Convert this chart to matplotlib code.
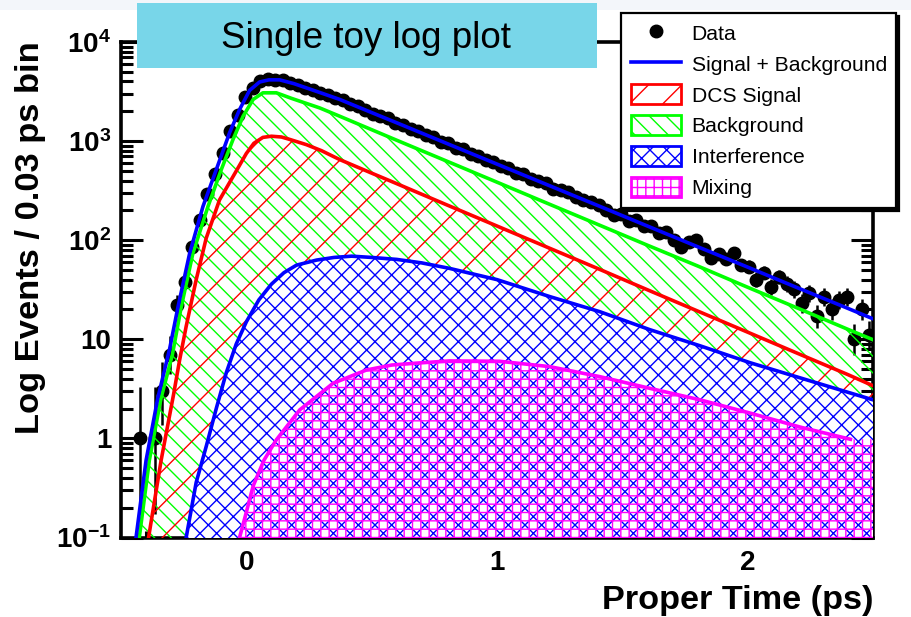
import numpy as np
import matplotlib
matplotlib.use('Agg')
import matplotlib.pyplot as plt
import matplotlib.patches as mpatches
import matplotlib.lines as mlines
import matplotlib.ticker as tck

plt.rcParams['font.family'] = ['Liberation Sans', 'DejaVu Sans']
plt.rcParams['mathtext.fontset'] = 'custom'
plt.rcParams['mathtext.rm'] = 'Liberation Sans:bold'
plt.rcParams['mathtext.it'] = 'Liberation Sans:bold'
plt.rcParams['mathtext.bf'] = 'Liberation Sans:bold'
plt.rcParams['hatch.linewidth'] = 1.0

# toy data: events per 0.03 ps bin, first bin starts at -0.5 ps
t_min = -0.5
bin_width = 0.03
counts = [0, 0, 1, 0, 1, 3, 7, 22, 38, 85,
          160, 290, 470, 760, 1250, 1830, 2800, 3450, 4050, 4200,
          4150, 4100, 3850, 3700, 3450, 3300, 3050, 2900, 2700, 2600,
          2350, 2250, 2050, 1880, 1800, 1700, 1520, 1450, 1310, 1270,
          1150, 1100, 990, 950, 860, 830, 740, 710, 640, 620,
          560, 540, 480, 470, 410, 400, 380, 330, 320, 305,
          270, 255, 245, 229, 200, 181, 185, 155, 160, 138,
          140, 118, 120, 100, 86, 95, 101, 82, 66, 72,
          64, 74, 56, 54, 40, 47, 34, 43, 36, 32,
          23, 29, 17, 27, 20, 25, 27, 10, 20, 11]

# fit components, proper time (ps) vs events / bin
total_t = [-0.44, -0.40, -0.354, -0.306, -0.273, -0.226, -0.173, -0.12, -0.067, -0.027,
           0.013, 0.053, 0.09, 0.133, 0.19, 0.24, 0.30, 0.373, 0.5, 0.6,
           0.8, 1.0, 1.2, 1.4, 1.6, 1.8, 2.0, 2.2, 2.4, 2.5]
total_v = [0.1, 0.6, 2.5, 8, 21, 74, 219, 515, 1210, 2080,
           3250, 3950, 4150, 4150, 3800, 3440, 3050, 2630, 1940, 1530,
           946, 586, 363, 225, 139, 86, 53.5, 33, 20.5, 16.1]

bkg_t = [-0.427, -0.387, -0.341, -0.295, -0.26, -0.213, -0.153, -0.10, -0.053, -0.013,
         0.027, 0.066, 0.12, 0.18, 0.293, 0.373, 0.6, 0.8, 1.0, 1.2,
         1.4, 1.6, 1.8, 2.0, 2.2, 2.4, 2.5]
bkg_v = [0.1, 0.6, 2.5, 7, 21, 74, 219, 515, 1040, 1780,
         2630, 3070, 3070, 2700, 2160, 1780, 1020, 627, 385, 236,
         145, 89, 55, 33.5, 20.6, 12.6, 9.9]

dcs_t = [-0.39, -0.34, -0.29, -0.266, -0.24, -0.20, -0.16, -0.107, -0.04, 0.0,
         0.03, 0.066, 0.10, 0.14, 0.173, 0.24, 0.30, 0.373, 0.5, 0.6,
         0.8, 1.0, 1.2, 1.4, 1.6, 1.8, 2.0, 2.2, 2.4, 2.5]
dcs_v = [0.1, 0.6, 2.8, 6.2, 13.5, 40, 105, 255, 500, 750,
         950, 1090, 1120, 1100, 1040, 920, 800, 650, 475, 372,
         227, 139, 85, 52, 31.6, 19.3, 11.8, 7.2, 4.4, 3.4]

int_t = [-0.24, -0.20, -0.16, -0.12, -0.08, -0.04, 0.0, 0.05, 0.10, 0.15,
         0.20, 0.28, 0.35, 0.42, 0.50, 0.60, 0.70, 0.81, 1.0, 1.21,
         1.41, 1.61, 1.81, 2.01, 2.25, 2.5]
int_v = [0.1, 0.36, 0.83, 2.0, 4.6, 9.0, 15, 25, 36, 47,
         56, 63, 67, 69, 67, 64, 59, 52, 40, 27,
         19, 12.5, 8.6, 5.8, 3.8, 2.45]

mix_t = [-0.027, 0.0, 0.027, 0.07, 0.12, 0.213, 0.346, 0.479, 0.58, 0.68,
         0.81, 1.01, 1.21, 1.41, 1.61, 1.81, 2.01, 2.21, 2.41]
mix_v = [0.1, 0.18, 0.33, 0.6, 0.97, 1.94, 3.6, 4.9, 5.5, 5.75,
         6.05, 6.0, 5.3, 4.2, 3.2, 2.45, 1.8, 1.3, 0.98]

x_max = 2.5

W, H = 911, 617
fig = plt.figure(figsize=(W / 100, H / 100), dpi=100)
ax = fig.add_axes([121 / W, 1 - 537.5 / H, (873 - 121) / W, (537.5 - 42) / H])

# data points with poisson (Gehrels) errors
n = np.array(counts, dtype=float)
centres = t_min + bin_width * (np.arange(len(n)) + 0.5)
keep = n > 0
n, centres = n[keep], centres[keep]
err_hi = np.sqrt(n + 0.75) + 1.0
err_lo = n - n * (1 - 1 / (9 * n) - 1 / (3 * np.sqrt(n))) ** 3
ax.errorbar(centres, n, yerr=[err_lo, err_hi], fmt='o', color='black',
            ms=9, elinewidth=1.8, capsize=0, zorder=2)

# hatched components
floor = 1e-3
ax.fill_between(bkg_t, floor, bkg_v, facecolor='none', edgecolor='#00ff00',
                hatch='\\\\', linewidth=0, zorder=3)
ax.fill_between(dcs_t, floor, dcs_v, facecolor='none', edgecolor='#ff0000',
                hatch='/', linewidth=0, zorder=3.1)
ax.fill_between(int_t, floor, int_v, facecolor='white', edgecolor='#0000ff',
                hatch='xx', linewidth=0, zorder=3.2)
ax.fill_between(mix_t + [x_max], floor, mix_v + [mix_v[-1]], facecolor='none',
                edgecolor='#ff00ff', hatch='++', linewidth=0, zorder=3.3)

ax.plot(bkg_t, bkg_v, color='#00ff00', lw=2.6, zorder=4)
ax.plot(dcs_t, dcs_v, color='#ff0000', lw=2.6, zorder=4)
ax.plot(int_t, int_v, color='#0000ff', lw=2.6, zorder=4)
ax.plot(mix_t, mix_v, color='#ff00ff', lw=2.6, zorder=4)
ax.plot(total_t, total_v, color='#0000ff', lw=2.6, zorder=5)

ax.set_xlim(-0.5, x_max)
ax.set_yscale('log')
ax.set_ylim(0.1, 1e4)

ax.set_xticks([0, 1, 2], labels=['0', '1', '2'], fontweight='bold')
ax.xaxis.set_minor_locator(tck.MultipleLocator(0.2))
ax.set_yticks([0.1, 1, 10, 100, 1000, 10000],
              labels=[r'$\mathbf{10^{-1}}$', '1', '10', r'$\mathbf{10^{2}}$',
                      r'$\mathbf{10^{3}}$', r'$\mathbf{10^{4}}$'],
              fontweight='bold')
ax.yaxis.set_minor_locator(tck.LogLocator(base=10, subs=np.arange(2, 10)))
ax.yaxis.set_minor_formatter(tck.NullFormatter())

ax.tick_params(which='both', direction='in', right=True, top=False, colors='black')
ax.tick_params(axis='y', which='major', length=16, width=2.2, labelsize=20, pad=7)
ax.tick_params(axis='y', which='minor', length=8.5, width=2.2)
ax.tick_params(axis='x', which='major', length=9.5, width=2.2, labelsize=20, pad=9)
ax.tick_params(axis='x', which='minor', length=5, width=2.2)
for side in ['left', 'bottom', 'right', 'top']:
    ax.spines[side].set_linewidth(2.6)

# axis titles
fig.text(873 / W, 1 - 609 / H, 'Proper Time (ps)', ha='right', va='baseline',
         fontsize=24.7, fontweight='bold')
fig.text(31 / W, 1 - 237.5 / H, 'Log Events / 0.03 ps bin', rotation=90,
         ha='center', va='center', fontsize=24.8, fontweight='bold')

# page strip and title box
fig.add_artist(mpatches.Rectangle((0, 1 - 10 / H), 1, 10 / H, transform=fig.transFigure,
                                  facecolor='#f3f6fa', edgecolor='none', zorder=0))
fig.add_artist(mpatches.Rectangle((137 / W, 1 - 68 / H), (597 - 137) / W, 65 / H,
                                  transform=fig.transFigure, facecolor='#78d6e9',
                                  edgecolor='none', zorder=1))
fig.text(366 / W, 1 - 48 / H, 'Single toy log plot', ha='center', va='baseline',
         fontsize=26.5, zorder=2)

# legend
handles = [
    mlines.Line2D([], [], color='black', marker='o', ls='none', ms=9, label='Data'),
    mlines.Line2D([], [], color='#0000ff', lw=2.6, label='Signal + Background'),
    mpatches.Patch(facecolor='white', edgecolor='#ff0000', hatch='/', lw=2, label='DCS Signal'),
    mpatches.Patch(facecolor='white', edgecolor='#00ff00', hatch='\\\\', lw=2, label='Background'),
    mpatches.Patch(facecolor='white', edgecolor='#0000ff', hatch='xx', lw=2, label='Interference'),
    mpatches.Patch(facecolor='white', edgecolor='#ff00ff', hatch='++', lw=2, label='Mixing'),
]
leg = ax.legend(handles=handles, loc='upper left', bbox_to_anchor=(621 / W, 1 - 13 / H),
                bbox_transform=fig.transFigure, borderaxespad=0, fontsize=15.2,
                handlelength=2.4, handleheight=1.06, handletextpad=0.5,
                labelspacing=0.47, borderpad=0.45, fancybox=False, framealpha=1,
                edgecolor='black', shadow={'color': 'black', 'alpha': 1.0})
leg.get_frame().set_linewidth(1.6)
leg.set_zorder(10)

fig.savefig('out.png', dpi=100)
